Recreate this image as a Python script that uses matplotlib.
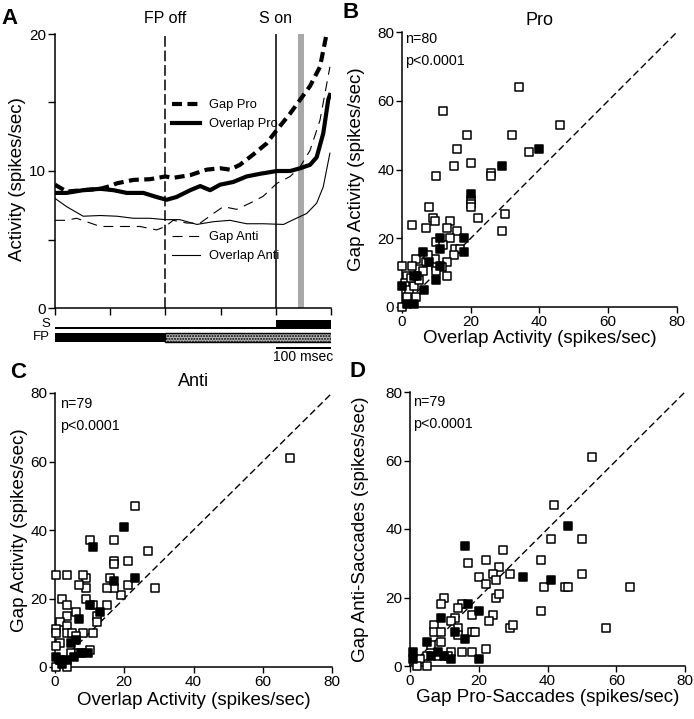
import matplotlib.pyplot as plt

plt.rcParams['font.family'] = ['Liberation Sans', 'DejaVu Sans']
plt.rcParams['axes.linewidth'] = 1.1
plt.rcParams['xtick.major.width'] = 1.0
plt.rcParams['ytick.major.width'] = 1.0

# ---- panel A: population activity, time relative to S on (msec) ----
t_gap_pro = [-400, -379, -349, -318, -300, -288, -258, -228, -200, -186, -155, -125,
             -101, -83, -65, -41, -17, 2, 26, 44, 62, 80, 92]
gap_pro = [9.0, 8.5, 8.6, 8.7, 8.9, 9.1, 9.35, 9.4, 9.6, 9.5, 9.7, 10.1,
           10.2, 10.1, 10.45, 11.2, 12.0, 13.0, 14.2, 15.2, 16.2, 17.6, 20.0]

t_overlap_pro = [-400, -379, -349, -318, -294, -270, -240, -216, -198, -180, -155, -137,
                 -119, -101, -77, -53, -28, 2, 26, 44, 62, 74, 86, 95, 98]
overlap_pro = [8.4, 8.4, 8.6, 8.7, 8.6, 8.4, 8.4, 8.1, 7.9, 8.1, 8.6, 8.9,
               8.6, 9.0, 9.2, 9.6, 9.8, 10.0, 10.0, 10.2, 10.45, 11.0, 12.75, 15.2, 15.55]

t_gap_anti = [-400, -379, -361, -343, -318, -294, -270, -246, -216, -200, -186, -161,
              -137, -113, -95, -71, -47, -23, 2, 26, 44, 62, 80, 98]
gap_anti = [6.4, 6.4, 6.55, 6.3, 5.95, 5.95, 5.95, 5.95, 5.7, 5.95, 6.4, 6.2,
            6.2, 6.9, 7.4, 7.2, 7.65, 8.15, 9.1, 9.6, 10.3, 11.5, 13.7, 17.6]

t_overlap_anti = [-400, -379, -349, -318, -288, -258, -228, -200, -174, -143, -113, -83,
                  -53, -23, 14, 32, 56, 74, 86, 98]
overlap_anti = [8.0, 7.4, 6.7, 6.75, 6.7, 6.55, 6.55, 6.45, 6.45, 6.1, 6.3, 6.4,
                6.15, 6.15, 6.1, 6.45, 6.9, 7.65, 8.85, 11.3]

t_start, t_end = -400, 100
fp_off, s_on = -200, 0
sacc_window = (40, 51)

# ---- panel B: Pro, overlap vs gap ----
b_open_x = [34, 12, 46, 19, 32, 16, 37, 15, 20, 10, 26, 26, 20, 20, 20, 30, 22, 29, 3, 8,
            9, 9.5, 7, 14, 13, 16, 14, 10, 12, 15.5, 17, 15, 13, 13, 10, 9.5, 7, 5, 4, 3,
            0, 1.5, 1, 2, 3.5, 1.5, 0, 4, 5, 7.5, 6, 11.5, 10, 2.5]
b_open_y = [64, 57, 53, 50, 50, 46, 45, 41, 42, 38, 39, 38, 31, 30, 29, 27, 26, 22, 24, 29,
            26, 25, 23, 25, 23, 22, 20, 19, 18, 17, 17, 15, 13, 9, 12, 14, 13, 11, 14, 12,
            12, 9, 7, 5, 6, 3, 0, 3, 8, 15, 10.5, 11.5, 10.5, 8.5]
b_fill_x = [40, 29, 20, 18, 18, 11, 11, 11, 10, 6, 8, 3.5, 4.5, 0, 6.5, 1.5, 3.5]
b_fill_y = [46, 41, 33, 20, 16, 20, 17, 12, 8, 16, 13, 9, 9, 6, 5, 1, 1]

# ---- panel C: Anti, overlap vs gap ----
c_open_x = [68, 23, 17, 10, 21, 17, 17, 27, 29, 21, 19, 16, 17, 15, 15, 12, 12, 11, 9, 9,
            9, 8, 7, 3.5, 0.3, 2, 3.5, 3.5, 6, 1.5, 3.5, 0.3, 0.3, 3.5, 5, 8, 11, 6, 1.5, 0.3,
            10, 4.5, 7, 0.3, 3.5, 1.5]
c_open_y = [61, 47, 37, 37, 31, 31, 30, 34, 23, 24, 21, 26, 23, 23, 18, 15, 13, 18, 20, 23,
            26, 27, 24, 27, 27, 20, 18, 15, 16, 13, 12, 11, 10, 10, 10, 10, 10, 9, 7, 6,
            5, 4, 4, 0, 0, 2]
c_fill_x = [20, 11, 17, 23, 10, 13, 7, 4.5, 6, 0.3, 1.5, 3.5, 5.5, 7.5, 9.5, 2]
c_fill_y = [41, 35, 25, 26, 18, 16, 14, 7, 8, 3, 2, 2, 3, 4, 4, 1]

# ---- panel D: gap pro vs gap anti ----
d_open_x = [53, 42, 41, 50, 50, 38, 39, 38, 45, 46, 64, 57, 27, 29, 26, 24, 25, 22, 17, 20,
            22, 25, 26, 24, 23, 29, 30, 22, 18, 15, 12, 15, 14, 13, 12, 14, 14, 18, 19, 18,
            10, 9, 7, 7, 9, 9, 6, 5, 3, 2, 5, 11, 8]
d_open_y = [61, 47, 37, 37, 27, 31, 23, 16, 23, 23, 23, 11, 34, 27, 29, 27, 25, 31, 30, 26,
            24, 20, 21, 15, 13, 11, 12, 5, 4, 4, 4, 18, 17, 14, 13, 11, 9, 10, 10, 15,
            20, 18, 12, 10, 10, 7, 6, 3, 2, 0, 0, 3, 3]
d_fill_x = [46, 16, 33, 41, 17, 20, 9, 16, 13, 5, 1, 1, 8, 10, 12, 20, 6]
d_fill_y = [41, 35, 26, 25, 18, 16, 14, 8, 10, 7, 4, 2, 4, 3, 2, 2, 3]

W, H = 694, 719
fig = plt.figure(figsize=(W / 100, H / 100), dpi=100)


def px_axes(x0, y_top, x1, y_bot):
    return fig.add_axes([x0 / W, 1 - y_bot / H, (x1 - x0) / W, (y_bot - y_top) / H])


def style(ax):
    for s in ['top', 'right']:
        ax.spines[s].set_visible(False)
    ax.tick_params(direction='out', length=4, labelsize=11, pad=1.5)


# ================= A =================
ax = px_axes(55, 34, 331, 308)
style(ax)
ax.set_xlim(t_start, t_end)
ax.set_ylim(0, 20)
ax.axvspan(*sacc_window, color='#a9a9a9', lw=0, zorder=0)
ax.axvline(fp_off, color='k', lw=1.1, dashes=(7, 2.5), zorder=1)
ax.axvline(s_on, color='k', lw=1.1, zorder=1)
l_gp, = ax.plot(t_gap_pro, gap_pro, color='k', lw=3.0, dashes=(2.4, 1.3), label='Gap Pro')
l_op, = ax.plot(t_overlap_pro, overlap_pro, color='k', lw=3.0, label='Overlap Pro')
l_ga, = ax.plot(t_gap_anti, gap_anti, color='k', lw=0.8, dashes=(9, 6), label='Gap Anti')
l_oa, = ax.plot(t_overlap_anti, overlap_anti, color='k', lw=0.8, label='Overlap Anti')
ax.set_xticks(range(t_start, t_end + 1, 100))
ax.set_xticklabels([])
ax.set_yticks([0, 5, 10, 15, 20])
ax.set_yticklabels(['0', '', '10', '', '20'])
ax.tick_params(length=5)
ax.set_ylabel('Activity (spikes/sec)', fontsize=13.5)
ax.yaxis.set_label_coords(-0.105, 0.47)
ax.text(fp_off, 20.6, 'FP off', ha='center', va='bottom', fontsize=11.5)
ax.text(s_on, 20.6, 'S on', ha='center', va='bottom', fontsize=11.5)
leg_kw = dict(loc='upper left', frameon=False, fontsize=9.3, handlelength=2.2,
              handletextpad=0.7, labelspacing=0.55, borderpad=0, borderaxespad=0)
leg1 = ax.legend(handles=[l_gp, l_op], bbox_to_anchor=(0.424, 0.762), **leg_kw)
ax.add_artist(leg1)
ax.legend(handles=[l_ga, l_oa], bbox_to_anchor=(0.424, 0.28), **leg_kw)

# timing bars under A
axt = px_axes(55, 318, 331, 362)
axt.set_xlim(t_start, t_end)
axt.set_ylim(0, 1)
axt.axis('off')
axt.barh(0.772, s_on - t_start, left=t_start, height=0.045, color='k')
axt.barh(0.852, t_end - s_on, left=s_on, height=0.205, color='k')
axt.barh(0.557, fp_off - t_start, left=t_start, height=0.205, color='k')
axt.barh(0.557, t_end - fp_off, left=fp_off, height=0.205, facecolor='#b8b8b8',
         edgecolor='k', lw=1.0, hatch='......')
axt.barh(0.318, t_end - s_on, left=s_on, height=0.05, color='k')
axt.text(t_start - 9, 0.86, 'S', ha='right', va='center', fontsize=9.5)
axt.text(t_start - 9, 0.56, 'FP', ha='right', va='center', fontsize=9.5)
axt.text((s_on + t_end) / 2, 0.11, '100 msec', ha='center', va='center', fontsize=10)


def scatter_panel(ax, ox, oy, fx, fy, xlabel, ylabel, ylab_x, xlab_y, n_text, n_pos):
    style(ax)
    ax.set_xlim(0, 80)
    ax.set_ylim(0, 80)
    ax.set_xticks([0, 20, 40, 60, 80])
    ax.set_yticks([0, 20, 40, 60, 80])
    ax.plot([0, 80], [0, 80], color='k', lw=1.0, dashes=(5, 2.6), zorder=1)
    ax.scatter(ox, oy, marker='s', s=27, facecolors='white', edgecolors='k',
               linewidths=1.1, clip_on=False, zorder=3)
    ax.scatter(fx, fy, marker='s', s=27, facecolors='k', edgecolors='k',
               linewidths=1.1, clip_on=False, zorder=4)
    ax.set_xlabel(xlabel, fontsize=13.5)
    ax.set_ylabel(ylabel, fontsize=13.5)
    ax.yaxis.set_label_coords(ylab_x, 0.5)
    ax.xaxis.set_label_coords(0.5, xlab_y)
    ax.text(n_pos[0], n_pos[1], n_text, transform=ax.transAxes, ha='left', va='top',
            fontsize=10.3, linespacing=1.75)


# ================= B =================
axb = px_axes(402, 32, 677, 307)
scatter_panel(axb, b_open_x, b_open_y, b_fill_x, b_fill_y,
              'Overlap Activity (spikes/sec)', 'Gap Activity (spikes/sec)',
              -0.135, -0.085, 'n=80\np<0.0001', (0.012, 1.0))
axb.set_title('Pro', fontsize=13, pad=5)

# ================= C =================
axc = px_axes(55, 393, 332, 667)
scatter_panel(axc, c_open_x, c_open_y, c_fill_x, c_fill_y,
              'Overlap Activity (spikes/sec)', 'Gap Activity (spikes/sec)',
              -0.097, -0.09, 'n=79\np<0.0001', (0.02, 0.985))
axc.set_title('Anti', fontsize=13, pad=5)

# ================= D =================
axd = px_axes(410, 392, 685, 666)
scatter_panel(axd, d_open_x, d_open_y, d_fill_x, d_fill_y,
              'Gap Pro-Saccades (spikes/sec)', 'Gap Anti-Saccades (spikes/sec)',
              -0.15, -0.083, 'n=79\np<0.0001', (0.012, 0.99))

# panel letters
for lab, x, y in [('A', 1, 8), ('B', 343, 2), ('C', 10, 362), ('D', 349, 361)]:
    fig.text(x / W, 1 - y / H, lab, fontsize=16, fontweight='bold', ha='left', va='top')

fig.savefig('out.png', dpi=100)
